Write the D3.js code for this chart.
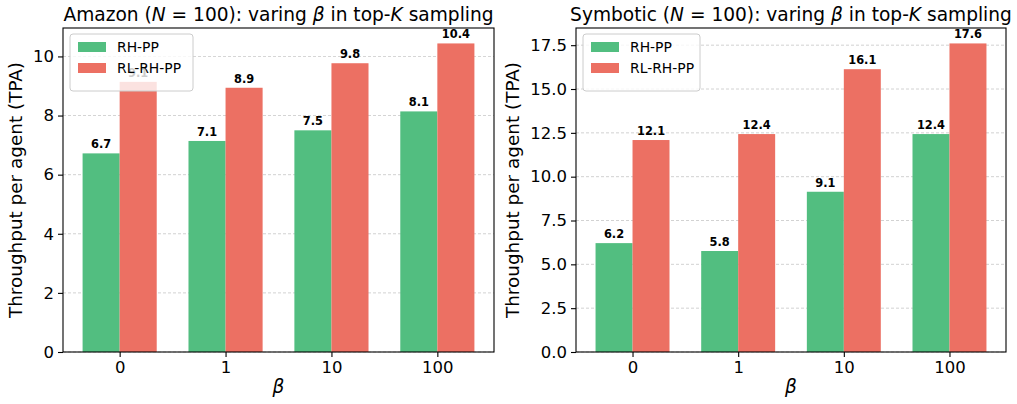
<!DOCTYPE html>
<html>
<head>
<meta charset="utf-8">
<script src="https://cdn.jsdelivr.net/npm/d3@7"></script>
<style>
  body { margin: 0; background: #fff; }
  svg { font-family: 'DejaVu Sans', sans-serif; }
</style>
</head>
<body>
<div id="chart"></div>
<script>
// data
const betas = ['0', '1', '10', '100'];
const seriesNames = ['RH-PP', 'RL-RH-PP'];
const colors = ['#52be80', '#ec7063'];

const amazonRH = [6.72, 7.14, 7.50, 8.14];
const amazonRL = [9.14, 8.94, 9.77, 10.44];
const symbRH = [6.21, 5.76, 9.14, 12.43];
const symbRL = [12.09, 12.43, 16.13, 17.60];

const amazonTicks = [0, 2, 4, 6, 8, 10];
const symbTicks = [0, 2.5, 5, 7.5, 10, 12.5, 15, 17.5];

const W = 1017, H = 404;
const svg = d3.select('#chart').append('svg').attr('width', W).attr('height', H);

const panels = [
    {name: 'Amazon', rh: amazonRH, rl: amazonRL, ticks: amazonTicks, fmt: d3.format('d'), left: 63, right: 494, legendX: 70, ylabX: 22},
    {name: 'Symbotic', rh: symbRH, rl: symbRL, ticks: symbTicks, fmt: d3.format('.1f'), left: 576, right: 1006, legendX: 583, ylabX: 519}
];

const yTop = 28, yBottom = 352, barW = 0.35;

panels.forEach((p) => {
    const g = svg.append('g');
    const ymax = d3.max(p.rh.concat(p.rl)) * 1.05;
    // matplotlib-like 5% margins around the bar extent
    const lo = -barW, hi = betas.length - 1 + barW, pad = (hi - lo) * 0.05;
    const x = d3.scaleLinear().domain([lo - pad, hi + pad]).range([p.left, p.right]);
    const y = d3.scaleLinear().domain([0, ymax]).range([yBottom, yTop]);

    // grid
    g.selectAll('.grid').data(p.ticks).enter().append('line')
        .attr('x1', p.left).attr('x2', p.right)
        .attr('y1', (d) => y(d)).attr('y2', (d) => y(d))
        .attr('stroke', '#b0b0b0').attr('stroke-width', 0.8)
        .attr('stroke-dasharray', '3,2').attr('opacity', 0.7);

    // bars
    const series = [p.rh, p.rl];
    series.forEach((vals, s) => {
        const off = s === 0 ? -barW : 0;
        g.selectAll('.bar' + s).data(vals).enter().append('rect')
            .attr('x', (d, i) => x(i + off))
            .attr('width', x(barW) - x(0))
            .attr('y', (d) => y(d))
            .attr('height', (d) => yBottom - y(d))
            .attr('fill', colors[s]);
        g.selectAll('.lab' + s).data(vals).enter().append('text')
            .attr('x', (d, i) => x(i + off + barW / 2))
            .attr('y', (d) => y(d) - 5)
            .attr('text-anchor', 'middle')
            .attr('font-size', 11.4)
            .attr('font-weight', 'bold')
            .text((d) => d3.format('.1f')(d));
    });

    // spines
    g.append('rect').attr('x', p.left).attr('y', yTop)
        .attr('width', p.right - p.left).attr('height', yBottom - yTop)
        .attr('fill', 'none').attr('stroke', '#000').attr('stroke-width', 1.1);

    // y axis
    const ya = g.append('g').attr('transform', `translate(${p.left},0)`)
        .call(d3.axisLeft(y).tickValues(p.ticks).tickFormat(p.fmt).tickSize(5).tickPadding(4));
    ya.select('.domain').remove();
    ya.selectAll('text').attr('font-size', 16.5).attr('font-family', 'DejaVu Sans').attr('fill', '#000');
    ya.selectAll('line').attr('stroke', '#000').attr('stroke-width', 1.1);

    // x axis
    const xa = g.append('g').attr('transform', `translate(0,${yBottom})`)
        .call(d3.axisBottom(x).tickValues(d3.range(betas.length)).tickFormat((d) => betas[d]).tickSize(5).tickPadding(4));
    xa.select('.domain').remove();
    xa.selectAll('text').attr('font-size', 16.5).attr('font-family', 'DejaVu Sans').attr('fill', '#000');
    xa.selectAll('line').attr('stroke', '#000').attr('stroke-width', 1.1);

    // x label
    g.append('text').attr('x', (p.left + p.right) / 2).attr('y', 393)
        .attr('text-anchor', 'middle').attr('font-size', 18.5).attr('font-style', 'italic').text('β');

    // y label
    g.append('text')
        .attr('transform', `translate(${p.ylabX},${(yTop + yBottom) / 2}) rotate(-90)`)
        .attr('text-anchor', 'middle').attr('font-size', 18.4)
        .text('Throughput per agent (TPA)');

    // title
    const t = g.append('text').attr('x', (p.left + p.right) / 2).attr('y', 21)
        .attr('text-anchor', 'middle').attr('font-size', 18.6);
    t.append('tspan').text(p.name + ' (');
    t.append('tspan').attr('font-style', 'italic').text('N');
    t.append('tspan').text(' = 100): varing ');
    t.append('tspan').attr('font-style', 'italic').text('β');
    t.append('tspan').text(' in top-');
    t.append('tspan').attr('font-style', 'italic').text('K');
    t.append('tspan').text(' sampling');

    // legend (drawn over the bars, as in the original)
    const lg = g.append('g').attr('transform', `translate(${p.legendX},34)`);
    lg.append('rect').attr('width', p.name === 'Amazon' ? 123 : 117).attr('height', 57)
        .attr('rx', 3).attr('fill', '#fff').attr('fill-opacity', 0.8)
        .attr('stroke', '#ccc').attr('stroke-width', 1);
    seriesNames.forEach((n, i) => {
        lg.append('rect').attr('x', 8).attr('y', 8 + i * 21).attr('width', 28).attr('height', 10)
            .attr('fill', colors[i]);
        lg.append('text').attr('x', 47).attr('y', 18 + i * 21).attr('font-size', 13.9).text(n);
    });
});
</script>
</body>
</html>
